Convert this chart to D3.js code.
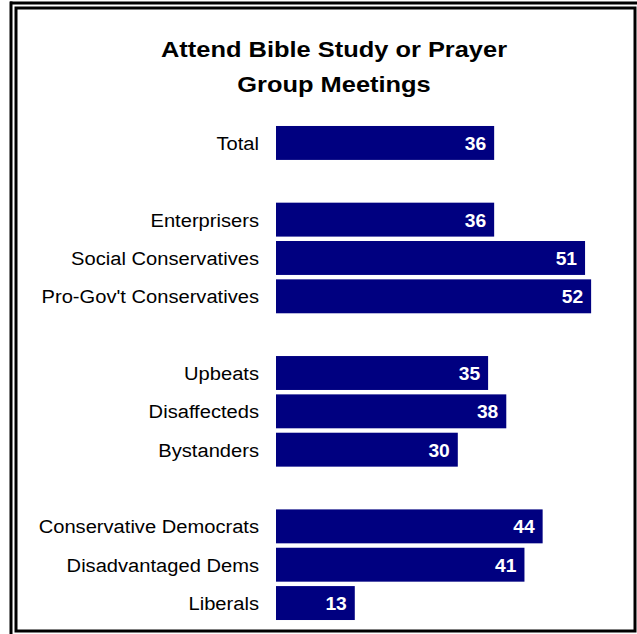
<!DOCTYPE html>
<html><head><meta charset="utf-8">
<script src="https://cdn.jsdelivr.net/npm/d3@7"></script>
<style>body{margin:0;background:#fff}svg{display:block}</style>
</head><body>
<script>
const titleLines = ["Attend Bible Study or Prayer", "Group Meetings"];
const categories = ["Total", "", "Enterprisers", "Social Conservatives", "Pro-Gov't Conservatives", " ",
  "Upbeats", "Disaffecteds", "Bystanders", "  ", "Conservative Democrats", "Disadvantaged Dems", "Liberals"];
const values = [36, null, 36, 51, 52, null, 35, 38, 30, null, 44, 41, 13];

const W = 637, H = 634;
const svg = d3.select("body").append("svg").attr("width", W).attr("height", H);
svg.append("rect").attr("width", W).attr("height", H).attr("fill", "#fff");

// frame
svg.append("line").attr("x1", 10).attr("x2", 637).attr("y1", 3).attr("y2", 3).attr("stroke", "#000").attr("stroke-width", 3);
svg.append("line").attr("x1", 11).attr("x2", 11).attr("y1", 1.5).attr("y2", 634).attr("stroke", "#000").attr("stroke-width", 3);
svg.append("rect").attr("x", 16).attr("y", 8).attr("width", 619).attr("height", 623)
  .attr("fill", "none").attr("stroke", "#000").attr("stroke-width", 3);

const FF = "'Liberation Sans', Arial, sans-serif";

// title
svg.append("g").selectAll("text").data(titleLines).join("text")
  .attr("transform", (d, i) => `translate(334,${56.5 + i * 35.5}) scale(1.13,1)`)
  .attr("text-anchor", "middle")
  .attr("font-family", FF)
  .attr("font-weight", "bold").attr("font-size", 22.5).attr("fill", "#000")
  .text(d => d);

const x = d3.scaleLinear().domain([0, 100]).range([276, 276 + 606]);
const y = d3.scaleBand().domain(categories).range([123.8, 622.2]).paddingInner(0.115).paddingOuter(0.057);

const data = categories.map((c, i) => ({c, v: values[i]})).filter(d => d.v != null);

svg.append("g").selectAll("rect").data(data).join("rect")
  .attr("x", x(0)).attr("y", d => y(d.c))
  .attr("width", d => x(d.v) - x(0)).attr("height", y.bandwidth())
  .attr("fill", "#000080");

svg.append("g").selectAll("text").data(data).join("text")
  .attr("transform", d => `translate(259,${y(d.c) + y.bandwidth() / 2 + 7}) scale(1.06,1)`)
  .attr("text-anchor", "end")
  .attr("font-family", FF)
  .attr("font-size", 19).attr("fill", "#000")
  .text(d => d.c);

svg.append("g").selectAll("text").data(data).join("text")
  .attr("transform", d => `translate(${x(d.v) - 8},${y(d.c) + y.bandwidth() / 2 + 7}) scale(1.04,1)`)
  .attr("text-anchor", "end")
  .attr("font-family", FF)
  .attr("font-weight", "bold")
  .attr("font-size", 18.5).attr("fill", "#fff")
  .text(d => d.v);
</script>
</body></html>
